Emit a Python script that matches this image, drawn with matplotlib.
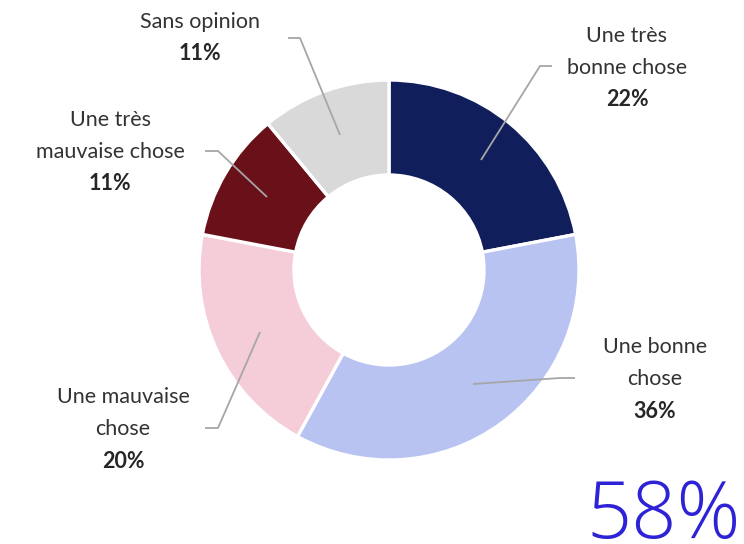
import matplotlib
matplotlib.use("Agg")
import matplotlib.pyplot as plt

labels = ["Une très\nbonne chose", "Une bonne\nchose", "Une mauvaise\nchose",
          "Une très\nmauvaise chose", "Sans opinion"]
values = [22, 36, 20, 11, 11]
colors = ["#101F5B", "#B8C3F1", "#F5CDD8", "#6A1019", "#D9D9D9"]
highlight = "58%"

W, H = 744, 544
fig = plt.figure(figsize=(W / 100, H / 100), dpi=100)
ax = fig.add_axes([0, 0, 1, 1])

cx, cy, R = 389, 544 - 270, 190
wedges, _ = ax.pie(values, colors=colors, startangle=90, counterclock=False,
                   center=(cx, cy), radius=R, frame=True,
                   wedgeprops=dict(width=R * 0.5, edgecolor="white", linewidth=2.4))
ax.set_xlim(0, W)
ax.set_ylim(0, H)
ax.set_aspect("equal")
ax.axis("off")

def Y(y):
    return H - y

# leader lines: (start point, elbow, end) in pixel coords
leaders = [
    [(481, 160), (540, 66), (552, 66)],
    [(473, 384), (560, 378), (575, 378)],
    [(260, 332), (218, 428), (205, 428)],
    [(267, 197), (218, 151), (205, 151)],
    [(340, 135), (300, 38), (288, 38)],
]
for pts in leaders:
    ax.plot([p[0] for p in pts], [Y(p[1]) for p in pts], color="#A6A6A6", lw=1.3,
            solid_capstyle="butt")

label_pos = [(627, 36), (655, 347), (123, 397), (110, 120), (200, 22)]
font = "Lato"
for lab, val, (x, y) in zip(labels, values, label_pos):
    lines = lab.split("\n")
    for i, ln in enumerate(lines):
        ax.text(x, Y(y + 32 * i), ln, ha="center", va="center", fontsize=15.5,
                color="#333333", family=font)
    ax.text(x, Y(y + 32 * len(lines)), f"{val}%", ha="center", va="center",
            fontsize=15.5, fontweight="bold", color="#262626", family=font)

ax.text(741, Y(538), highlight, ha="right", va="baseline", fontsize=57,
        fontweight="light", color="#2E22D6", family=["Open Sans", "DejaVu Sans"])

fig.savefig("out.png", dpi=100)
